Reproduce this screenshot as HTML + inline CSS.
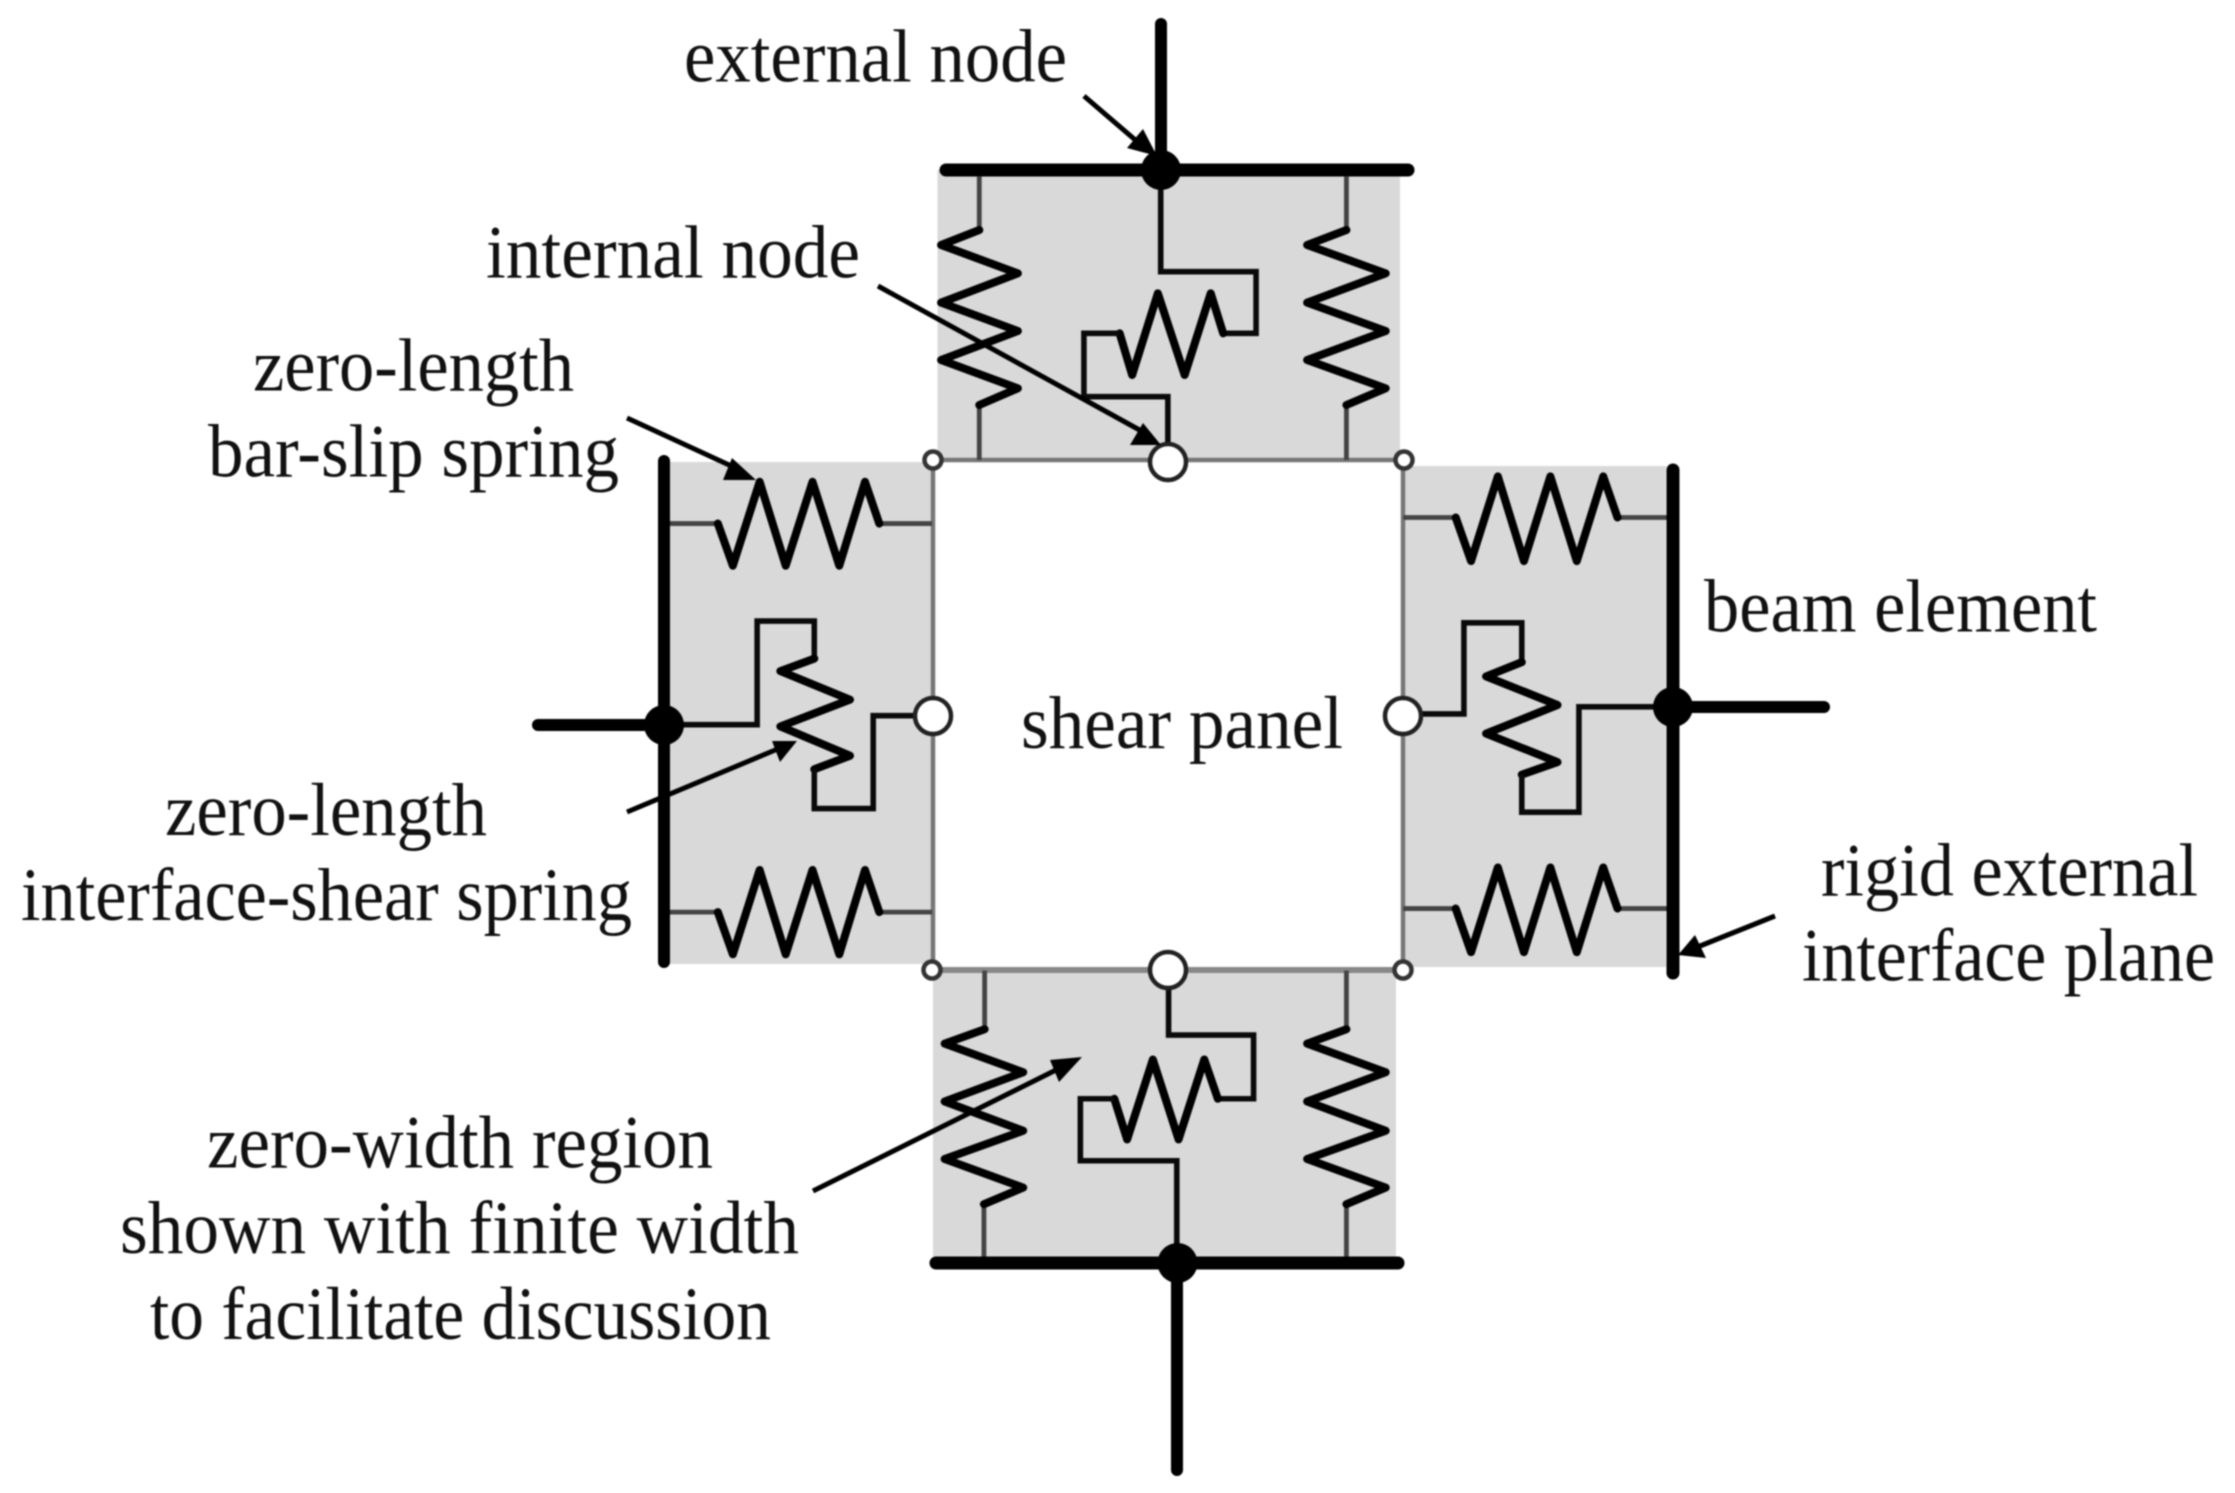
<!DOCTYPE html>
<html>
<head>
<meta charset="utf-8">
<style>
html,body{margin:0;padding:0;background:#fff;}
svg{display:block;filter:blur(.8px);}
.z,.t,.g{fill:none;vector-effect:non-scaling-stroke;}
.z{stroke:#000;stroke-width:8;stroke-linejoin:round;stroke-linecap:round;}
.t{stroke:#0a0a0a;stroke-width:5.6;stroke-linejoin:miter;}
.g{stroke:#444;stroke-width:4.8;}
.b{stroke:#000;fill:none;stroke-linecap:round;}
.a{stroke:#000;stroke-width:5;fill:none;}
.s{fill:#fff;stroke:#333;stroke-width:4.5;}
.w{fill:#fff;stroke:#222;stroke-width:4.5;}
text{font-family:"Liberation Serif",serif;font-size:75px;fill:#111;}
</style>
</head>
<body>
<svg width="2235" height="1493" viewBox="0 0 2235 1493" xmlns="http://www.w3.org/2000/svg">
<rect width="2235" height="1493" fill="#fff"/>
<!-- gray regions -->
<rect x="937.5" y="170" width="462.5" height="290" fill="#d9d9d9"/>
<rect x="668" y="462" width="264" height="502" fill="#d9d9d9"/>
<rect x="1403" y="466" width="263" height="501" fill="#d9d9d9"/>
<rect x="933" y="971" width="463" height="291" fill="#d9d9d9"/>

<!-- shear panel outline -->
<path d="M932 460H1403M933 460V969M1403 460V969" fill="none" stroke="#777" stroke-width="4.5"/>
<path d="M932 970H1403" fill="none" stroke="#888" stroke-width="6"/>

<!-- top region springs -->
<g transform="translate(900,0) scale(.35714,.33333)">
<path class="g" d="M222 530V690M222 1215V1380M1250 530V690M1250 1215V1380"/>
<path class="z" d="M222 690L115 735L330 820L115 908L330 993L115 1080L330 1165L222 1215"/>
<path class="z" d="M1250 690L1140 735L1360 820L1140 908L1360 993L1140 1080L1360 1165L1250 1215"/>
<path class="t" d="M730 510V815H997V1000H905"/>
<path class="z" d="M905 1000L870 880L797 1125L722 880L650 1125L615 1000"/>
<path class="t" d="M615 1000H515V1190H750V1330"/>
</g>

<!-- left region springs -->
<g transform="translate(500,430) scale(.35714)">
<path class="g" d="M475 262H610M1062 262H1210M475 1350H610M1062 1350H1210"/>
<path class="z" d="M610 262L652 380L727 145L800 380L875 145L950 380L1022 145L1062 262"/>
<path class="z" d="M610 1350L652 1468L727 1232L800 1468L875 1232L950 1468L1022 1232L1062 1350"/>
<path class="t" d="M458 825H720V535H880V640"/>
<path class="z" d="M880 640L785 675L980 755L785 830L980 912L880 950"/>
<path class="t" d="M880 950V1060H1045V800H1210"/>
</g>

<!-- right region springs -->
<g transform="translate(1380,430) scale(.35714)">
<path class="g" d="M65 245H212M665 245H805M65 1340H212M665 1340H805"/>
<path class="z" d="M212 245L255 367L330 130L403 367L477 130L551 367L625 130L665 245"/>
<path class="z" d="M212 1340L255 1462L330 1225L403 1462L477 1225L551 1462L625 1225L665 1340"/>
<path class="t" d="M65 795H235V540H397V650"/>
<path class="z" d="M397 650L297 690L497 770L297 850L497 930L397 965"/>
<path class="t" d="M397 965V1070H557V775H820"/>
</g>

<!-- bottom region springs -->
<g transform="translate(900,950) scale(.35714,.34435)">
<path class="g" d="M237 60V230M235 738V905M1250 60V230M1250 738V905"/>
<path class="z" d="M237 230L125 272L345 355L125 440L345 525L125 607L345 690L235 738"/>
<path class="z" d="M1250 230L1140 272L1360 355L1140 440L1360 525L1140 607L1360 690L1250 738"/>
<path class="t" d="M752 100V247H990V432H890"/>
<path class="z" d="M890 432L852 318L780 550L708 318L636 550L600 432"/>
<path class="t" d="M600 432H505V612H775V908"/>
</g>

<!-- thick beams -->
<path class="b" stroke-width="12" d="M1161 24V170"/>
<path class="b" stroke-width="13" d="M946 170H1408"/>
<path class="b" stroke-width="12" d="M664 461V962"/>
<path class="b" stroke-width="12" d="M538 725H664"/>
<path class="b" stroke-width="13" d="M1673 470V973"/>
<path class="b" stroke-width="12" d="M1673 707H1824"/>
<path class="b" stroke-width="13" d="M936 1263H1398"/>
<path class="b" stroke-width="12" d="M1177 1263V1470"/>

<!-- external nodes -->
<circle cx="1161" cy="170" r="20" fill="#000"/>
<circle cx="664" cy="725" r="20" fill="#000"/>
<circle cx="1673" cy="707" r="20" fill="#000"/>
<circle cx="1177.5" cy="1263" r="20" fill="#000"/>

<!-- internal nodes -->
<circle class="w" cx="1168" cy="462" r="18"/>
<circle class="w" cx="933" cy="716" r="18"/>
<circle class="w" cx="1403" cy="716" r="18"/>
<circle class="w" cx="1168" cy="970" r="18"/>
<circle class="s" cx="933" cy="460" r="8.5"/>
<circle class="s" cx="1404" cy="460" r="8.5"/>
<circle class="s" cx="932" cy="970" r="8.5"/>
<circle class="s" cx="1403" cy="970" r="8.5"/>

<!-- arrows -->
<path class="a" d="M1084 96L1140 144"/>
<polygon points="1157,156 1127,148 1143,129" fill="#000"/>
<path class="a" d="M878 286L1145 433"/>
<polygon points="1161,445 1130,445 1143,423" fill="#000"/>
<path class="a" d="M627 418L740 470"/>
<polygon points="756,480 723,480 732,458" fill="#000"/>
<path class="a" d="M627 812L780 748"/>
<polygon points="797,741 772,741 780,762" fill="#000"/>
<path class="a" d="M1775 916L1695 948"/>
<polygon points="1678,955 1695,935 1706,958" fill="#000"/>
<path class="a" d="M813 1191L1060 1068"/>
<polygon points="1082,1057 1050,1060 1059,1082" fill="#000"/>

<!-- labels -->
<text x="684" y="81.5" textLength="383" lengthAdjust="spacingAndGlyphs">external node</text>
<text x="486" y="277.5" textLength="374" lengthAdjust="spacingAndGlyphs">internal node</text>
<text x="253" y="390.5" textLength="321" lengthAdjust="spacingAndGlyphs">zero-length</text>
<text x="208" y="476.5" textLength="411" lengthAdjust="spacingAndGlyphs">bar-slip spring</text>
<text x="165" y="835" textLength="322" lengthAdjust="spacingAndGlyphs">zero-length</text>
<text x="21" y="920" textLength="611" lengthAdjust="spacingAndGlyphs">interface-shear spring</text>
<text x="207" y="1167.5" textLength="506" lengthAdjust="spacingAndGlyphs">zero-width region</text>
<text x="120" y="1253" textLength="679" lengthAdjust="spacingAndGlyphs">shown with finite width</text>
<text x="150" y="1339" textLength="621" lengthAdjust="spacingAndGlyphs">to facilitate discussion</text>
<text x="1704" y="631.5" textLength="393" lengthAdjust="spacingAndGlyphs">beam element</text>
<text x="1021" y="748" textLength="322" lengthAdjust="spacingAndGlyphs">shear panel</text>
<text x="1821" y="895.5" textLength="377" lengthAdjust="spacingAndGlyphs">rigid external</text>
<text x="1802" y="980.5" textLength="413" lengthAdjust="spacingAndGlyphs">interface plane</text>
</svg>
</body>
</html>
